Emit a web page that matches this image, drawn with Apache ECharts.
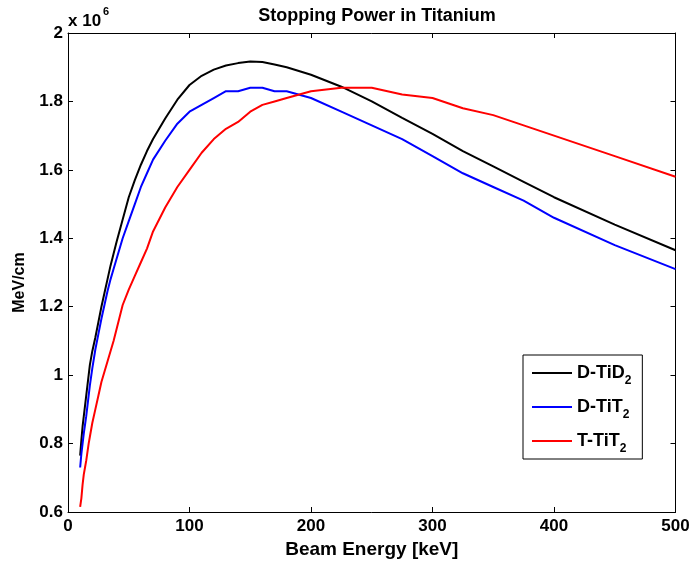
<!DOCTYPE html>
<html>
<head>
<meta charset="utf-8">
<script src="https://cdn.jsdelivr.net/npm/echarts@6/dist/echarts.min.js"></script>
<style>
html,body{margin:0;padding:0;background:#fff;}
#chart{width:691px;height:561px;}
</style>
</head>
<body>
<div id="chart"></div>
<script>
// Beam energy [keV]
const energies = [10,11,12,13,14,15,16,17,18,20,22.5,25,27.5,30,32.5,35,37.5,40,45,50,55,60,65,70,80,90,100,110,120,130,140,150,160,170,180,200,225,250,275,300,325,350,375,400,450,500];
// Stopping power, units of 1e6 MeV/cm
const dTiD2 = [0.765,0.81,0.85,0.88,0.91,0.94,0.97,1.00,1.03,1.07,1.11,1.155,1.20,1.24,1.28,1.32,1.355,1.39,1.455,1.52,1.57,1.615,1.655,1.69,1.75,1.805,1.848,1.875,1.893,1.905,1.912,1.917,1.915,1.908,1.90,1.878,1.843,1.80,1.752,1.705,1.655,1.61,1.565,1.52,1.44,1.365];
const dTiT2 = [0.73,0.77,0.80,0.83,0.855,0.88,0.91,0.94,0.97,1.02,1.075,1.12,1.165,1.205,1.245,1.28,1.31,1.34,1.40,1.45,1.50,1.55,1.59,1.63,1.685,1.735,1.77,1.79,1.81,1.83,1.83,1.84,1.84,1.83,1.83,1.81,1.77,1.73,1.69,1.64,1.59,1.55,1.51,1.46,1.38,1.31];
const tTiT2 = [0.615,0.64,0.68,0.71,0.73,0.75,0.775,0.80,0.82,0.86,0.90,0.94,0.98,1.01,1.04,1.07,1.10,1.135,1.205,1.25,1.29,1.33,1.37,1.42,1.49,1.55,1.60,1.65,1.69,1.72,1.74,1.77,1.79,1.80,1.81,1.83,1.84,1.84,1.82,1.81,1.78,1.76,1.73,1.70,1.64,1.58];
const seriesNames = ['D-TiD2','D-TiT2','T-TiT2'];
const legendLabels = {'D-TiD2':'D-TiD{sub|2}','D-TiT2':'D-TiT{sub|2}','T-TiT2':'T-TiT{sub|2}'};
const xTicks = {min:0, max:500, interval:100};
const yTicks = {min:0.6, max:2, interval:0.2};

const FONT = 'Liberation Sans, Arial, sans-serif';
const chart = echarts.init(document.getElementById('chart'));
const pair = (xs, ys) => xs.map((x,i)=>[x, ys[i]]);
const lineSeries = (name, data, color) => ({
  name, type:'line', data: pair(energies, data), symbol:'none', showSymbol:false, smooth:false,
  lineStyle:{color, width:2}, itemStyle:{color}, animation:false
});
const axisCommon = {
  axisLine:{show:true, onZero:false, lineStyle:{color:'#000', width:1}},
  axisTick:{show:true, inside:true, length:5, lineStyle:{color:'#000'}},
  splitLine:{show:false}
};
chart.setOption({
  backgroundColor:'#fff',
  animation:false,
  title:{
    text:'Stopping Power in Titanium', left:372, top:2, textAlign:'center',
    textStyle:{fontFamily:FONT, fontSize:18, fontWeight:'bold', color:'#000'}
  },
  grid:{left:68, right:15.5, top:33, bottom:49, containLabel:false, outerBoundsMode:'none'},
  xAxis:[
    Object.assign({type:'value', position:'bottom', min:xTicks.min, max:xTicks.max, interval:xTicks.interval,
      name:'Beam Energy [keV]', nameLocation:'middle', nameGap:28,
      nameTextStyle:{fontFamily:FONT, fontSize:19, fontWeight:'bold', color:'#000'},
      axisLabel:{fontFamily:FONT, fontSize:17, fontWeight:'bold', color:'#000', margin:6}}, axisCommon),
    Object.assign({type:'value', position:'top', min:xTicks.min, max:xTicks.max, interval:xTicks.interval,
      axisLabel:{show:false}}, axisCommon)
  ],
  yAxis:[
    Object.assign({type:'value', position:'left', min:yTicks.min, max:yTicks.max, interval:yTicks.interval,
      name:'MeV/cm', nameLocation:'middle', nameGap:40,
      nameTextStyle:{fontFamily:FONT, fontSize:16, fontWeight:'bold', color:'#000', padding:[0,20,0,0]},
      axisLabel:{fontFamily:FONT, fontSize:17, fontWeight:'bold', color:'#000', margin:5,
        formatter: v => String(+v.toFixed(1))}}, axisCommon),
    Object.assign({type:'value', position:'right', min:yTicks.min, max:yTicks.max, interval:yTicks.interval,
      axisLabel:{show:false}}, axisCommon)
  ],
  legend:{
    data: seriesNames, orient:'vertical', left:523, top:355,
    backgroundColor:'#fff', borderColor:'#000', borderWidth:1,
    padding:[4,11,4,9], itemGap:6, itemWidth:40, itemHeight:2, icon:'rect',
    formatter: n => legendLabels[n],
    textStyle:{fontFamily:FONT, fontSize:18, fontWeight:'bold', color:'#000', lineHeight:28,
      rich:{sub:{fontFamily:FONT, fontSize:12, fontWeight:'bold', color:'#000', lineHeight:12, verticalAlign:'bottom'}}}
  },
  graphic:[
    {type:'text', left:68, top:13, style:{text:'x 10', font:'bold 17px '+FONT, fill:'#000'}},
    {type:'text', left:103, top:6, style:{text:'6', font:'bold 11px '+FONT, fill:'#000'}}
  ],
  series:[
    lineSeries(seriesNames[0], dTiD2, '#000000'),
    lineSeries(seriesNames[1], dTiT2, '#0000ff'),
    lineSeries(seriesNames[2], tTiT2, '#ff0000')
  ]
});
</script>
</body>
</html>
